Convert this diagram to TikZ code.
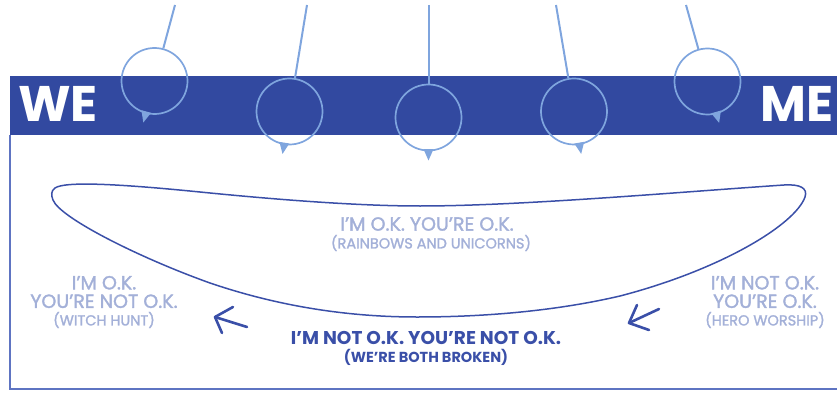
\documentclass[tikz,border=0pt]{standalone}
\usepackage{fontspec}
\setmainfont{Poppins}
\newfontfamily\softfont[FakeBold=1.6]{Poppins}
\usetikzlibrary{calc}
\definecolor{bandblue}{HTML}{3249A0}
\definecolor{bobblue}{HTML}{7FA5DE}
\definecolor{frameblue}{HTML}{5E74C2}
\definecolor{inkblue}{HTML}{3A4FA8}
\definecolor{paleblue}{HTML}{A3B0D8}
\begin{document}
\begin{tikzpicture}[x=1pt, y=-1pt,
  bob/.style={circle, draw=bobblue, line width=1.7pt, minimum size=66pt, inner sep=0pt},
  wire/.style={draw=bobblue, line width=2pt},
  pale/.style={text=paleblue, align=center, inner sep=0pt},
  big/.style={font=\fontsize{19}{18.5}\selectfont\softfont},
  small/.style={font=\fontsize{14.5}{14}\selectfont\softfont},
  stroke/.style={draw=inkblue, line width=2.6pt, line cap=round, line join=round}]
\useasboundingbox (0,0) rectangle (837,393);
% frame and band
\draw[frameblue, line width=1.5pt] (10,135) -- (10,389) -- (837,389);
\fill[bandblue] (10,76) rectangle (837,135);
\node[text=white, font=\fontsize{50}{50}\selectfont\bfseries] (we) at (58,104) {WE};
\node[text=white, font=\fontsize{50}{50}\selectfont\bfseries] (me) at (797,104) {ME};
% pendulums
\foreach \i/\px/\cx/\cy in {1/175/154.5/81, 2/307/289.5/111.5, 3/428.5/428.5/117.5, 4/556/574/111.5, 5/686/707.5/81.5} {
  \coordinate (p\i) at (\px,5);
  \node[bob] (b\i) at (\cx,\cy) {};
  \draw[wire] (p\i) -- (b\i);
  \fill[bobblue] ($(b\i.center)!32pt!171:(p\i)$) -- ($(b\i.center)!43pt!180:(p\i)$) -- ($(b\i.center)!32pt!189:(p\i)$) -- cycle;
}
% the smile
\draw[inkblue, line width=1.5pt] (55,188) .. controls (65,181) and (120,184) .. (200,192)
  .. controls (280,200) and (360,206) .. (420,206)
  .. controls (520,206) and (680,192) .. (784,185)
  .. controls (800,184) and (808,188) .. (805,197)
  .. controls (795,225) and (720,270) .. (620,296)
  .. controls (560,310) and (490,317) .. (417,317)
  .. controls (330,317) and (260,300) .. (210,283)
  .. controls (140,258) and (60,218) .. (53,200)
  .. controls (51,195) and (51,191) .. (55,188) -- cycle;
% positions
\node[pale, big] (okok) at (427,224) {I’M O.K. YOU’RE O.K.};
\node[pale, small] (okoksub) at (431,243) {(RAINBOWS AND UNICORNS)};
\node[pale, big] (oknot) at (104,292) {I’M O.K.\\YOU’RE NOT O.K.};
\node[pale, small] (oknotsub) at (104,320) {(WITCH HUNT)};
\node[pale, big] (notok) at (765,292) {I’M NOT O.K.\\YOU’RE O.K.};
\node[pale, small] (notoksub) at (765,320) {(HERO WORSHIP)};
\node[text=inkblue, inner sep=0pt, font=\fontsize{18.5}{18}\selectfont\bfseries] (notnot) at (426,338) {I’M NOT O.K. YOU’RE NOT O.K.};
\node[text=inkblue, inner sep=0pt, font=\fontsize{14.5}{14}\selectfont\bfseries] (notnotsub) at (426,357) {(WE’RE BOTH BROKEN)};
% arrows
\draw[stroke] (247,327) -- (215,317);
\draw[stroke] (233,307) -- (215,317) -- (222,333);
\draw[stroke] (659,309) -- (629,323);
\draw[stroke] (637,305) -- (629,323) -- (649,330);
\end{tikzpicture}
\end{document}
